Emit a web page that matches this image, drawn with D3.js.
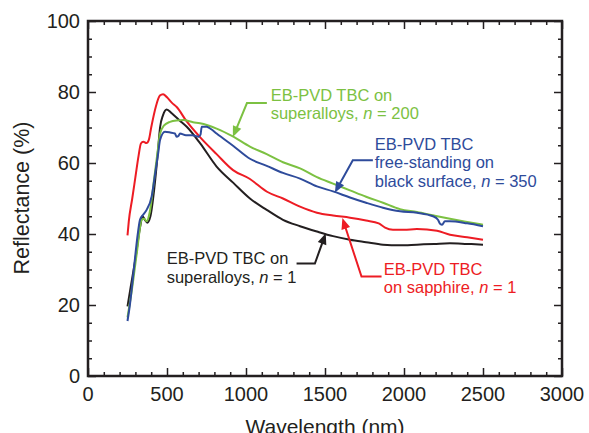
<!DOCTYPE html>
<html>
<head>
<meta charset="utf-8">
<script src="https://cdn.jsdelivr.net/npm/d3@7"></script>
<style>
  body { margin: 0; background: #fff; }
  svg { display: block; font-family: "Liberation Sans", Arial, Helvetica, sans-serif; }
</style>
</head>
<body>
<svg id="chart" width="589" height="433"></svg>
<script>
// plot box in px
const margin = { top: 21, right: 27, bottom: 57, left: 88 };
const W = 589, H = 433;
const width = W - margin.left - margin.right;
const height = H - margin.top - margin.bottom;

// data: wavelength (nm) / reflectance (%)
var blackWl = [250, 270, 300, 330, 345, 360, 375, 395, 420, 440, 456, 475, 498, 530, 580, 625, 709, 814, 920, 1025, 1131, 1234, 1342, 1449, 1551, 1658, 1760, 1867, 1975, 2082, 2190, 2291, 2400, 2500]
var blackR = [19.6, 25, 33, 42, 45, 44, 43.2, 45, 53, 62, 70, 73.5, 75.1, 74, 72, 70.2, 65.6, 59.0, 54.4, 50.0, 46.8, 44.0, 42.2, 40.7, 39.4, 38.4, 37.7, 37.0, 36.8, 37.0, 37.2, 37.4, 37.2, 37.0]

var redWl = [250, 258, 280, 300, 320, 335, 350, 370, 385, 400, 430, 455, 475, 500, 530, 563, 620, 709, 814, 918, 1025, 1133, 1234, 1342, 1449, 1551, 1658, 1760, 1840, 1880, 1930, 2000, 2082, 2209, 2291, 2400, 2500]
var redR = [39.6, 43.5, 50, 56, 62, 65.5, 66, 65.6, 66.5, 70, 76, 79, 79.4, 78.5, 77, 75.7, 72, 67.3, 62.5, 58.0, 55.5, 51.9, 50.0, 47.7, 46.0, 45.2, 44.6, 43.8, 43, 41.8, 41.2, 41.2, 41.4, 40.9, 39.8, 39.1, 38.4]

var greenWl = [250, 280, 310, 340, 355, 371, 390, 420, 440, 456, 480, 519, 560, 603, 665, 709, 814, 920, 1025, 1131, 1234, 1342, 1449, 1551, 1658, 1760, 1867, 1975, 2082, 2190, 2291, 2400, 2500]
var greenR = [16.5, 25, 35, 44, 44.3, 43.6, 46, 56, 63, 68.3, 70.5, 71.6, 72, 72.1, 71.5, 71.2, 69.7, 67.4, 64.6, 62.5, 60.2, 58.5, 56, 54.2, 52.3, 50.5, 48.8, 47, 46.2, 45.2, 44.3, 43.4, 42.6]

var blueWl = [250, 265, 290, 315, 329, 350, 371, 403, 425, 445, 456, 487, 520, 550, 561, 572, 582, 620, 660, 700, 712, 720, 751, 780, 814, 920, 1025, 1131, 1234, 1342, 1449, 1551, 1658, 1760, 1867, 1975, 2082, 2184, 2215, 2230, 2241, 2259, 2291, 2400, 2500]
var blueR = [15.5, 20, 30, 40, 44, 45.5, 46.8, 50.6, 57, 63, 66.5, 68.8, 68.6, 68.3, 67.4, 67.6, 68.3, 67.8, 67.8, 67.4, 68, 70.2, 70.2, 69.5, 68.3, 64.8, 61.2, 59.2, 57.2, 55.6, 53.4, 52.0, 50.3, 48.8, 47.4, 46.4, 46.0, 45.0, 44.0, 42.8, 42.6, 43.6, 43.6, 43.0, 42.2]

var xTicks = [0, 500, 1000, 1500, 2000, 2500, 3000]
var yTicks = [0, 20, 40, 60, 80, 100]

var colors = { black: '#231f20', red: '#ed1c24', green: '#7cc142', blue: '#2e4b9b' }

var series = [
    { wl: blackWl, r: blackR, color: colors.black },
    { wl: redWl, r: redR, color: colors.red },
    { wl: greenWl, r: greenR, color: colors.green },
    { wl: blueWl, r: blueR, color: colors.blue }
]

// labels: text anchor + arrow path in data units
var notes = [
    { color: colors.green, at: [1156, 77.6], lines: [['EB-PVD TBC on'], ['superalloys, ', 'n', ' = 200']],
      arrow: [[1132, 76.9], [1006, 76.9], [917, 67.3]] },
    { color: colors.blue, at: [1815, 63.7], lines: [['EB-PVD TBC'], ['free-standing on'], ['black surface, ', 'n', ' = 350']],
      arrow: [[1803, 60.8], [1676, 60.8], [1562, 51.6]] },
    { color: colors.red, at: [1872, 28.5], lines: [['EB-PVD TBC'], ['on sapphire, ', 'n', ' = 1']],
      arrow: [[1858, 28.0], [1731, 28.0], [1610, 44.5]] },
    { color: colors.black, at: [498, 31.5], lines: [['EB-PVD TBC on'], ['superalloys, ', 'n', ' = 1']],
      arrow: [[1320, 31.7], [1436, 31.7], [1505, 40.2]] }
]

var svg = d3.select('#chart')
var g = svg.append('g').attr('transform', 'translate(' + margin.left + ',' + margin.top + ')')

var xScale = d3.scaleLinear().domain([0, 3000]).range([0, width])
var yScale = d3.scaleLinear().domain([0, 100]).range([height, 0])

// ticks inward on all four sides
function tickAxes() {
    const minorX = d3.range(0, 3001, 100)
    const minorY = d3.range(0, 101, 5)
    const fx = v => v % 500 == 0 ? 8 : 4
    const fy = v => v % 20 == 0 ? 8 : 4

    g.append('g').attr('transform', 'translate(0,' + height + ')')
        .call(d3.axisBottom(xScale).tickValues(minorX).tickFormat('').tickSizeInner(0).tickSizeOuter(0))
        .call(a => a.selectAll('.tick line').attr('y2', d => -fx(d)))
    g.append('g')
        .call(d3.axisTop(xScale).tickValues(minorX).tickFormat('').tickSizeInner(0).tickSizeOuter(0))
        .call(a => a.selectAll('.tick line').attr('y2', d => fx(d)))
    g.append('g')
        .call(d3.axisLeft(yScale).tickValues(minorY).tickFormat('').tickSizeInner(0).tickSizeOuter(0))
        .call(a => a.selectAll('.tick line').attr('x2', d => fy(d)))
    g.append('g').attr('transform', 'translate(' + width + ',0)')
        .call(d3.axisRight(yScale).tickValues(minorY).tickFormat('').tickSizeInner(0).tickSizeOuter(0))
        .call(a => a.selectAll('.tick line').attr('x2', d => -fy(d)))

    g.selectAll('.domain').remove()
    g.selectAll('.tick line').attr('stroke', '#231f20').attr('stroke-width', 1.5)

    // labels
    g.selectAll('.xlab').data(xTicks).join('text')
        .attr('x', d => xScale(d)).attr('y', height + 25)
        .attr('text-anchor', 'middle').attr('font-size', 20).attr('fill', '#231f20')
        .text(d => d)
    g.selectAll('.ylab').data(yTicks).join('text')
        .attr('x', -8).attr('y', d => yScale(d) + 7)
        .attr('text-anchor', 'end').attr('font-size', 20).attr('fill', '#231f20')
        .text(d => d)

    g.append('rect').attr('width', width).attr('height', height)
        .attr('fill', 'none').attr('stroke', '#231f20').attr('stroke-width', 2.5)
}

tickAxes()

var line = d3.line().x(d => xScale(d[0])).y(d => yScale(d[1])).curve(d3.curveMonotoneX)

series.forEach(s => {
    g.append('path')
        .datum(s.wl.map((w, i) => [w, s.r[i]]))
        .attr('d', line)
        .attr('fill', 'none')
        .attr('stroke', s.color)
        .attr('stroke-width', 2)
        .attr('stroke-linejoin', 'round')
})

// annotations with arrows
notes.forEach(n => {
    const t = g.append('text')
        .attr('x', xScale(n.at[0])).attr('y', yScale(n.at[1]))
        .attr('font-size', 16.5).attr('fill', n.color)
    n.lines.forEach((parts, i) => {
        parts.forEach((p, j) => {
            const ts = t.append('tspan').text(p)
            if (j == 0) ts.attr('x', xScale(n.at[0])).attr('dy', i == 0 ? 0 : 18.5)
            if (p == 'n') ts.attr('font-style', 'italic')
        })
    })
    const pts = n.arrow.map(p => [xScale(p[0]), yScale(p[1])])
    g.append('path').attr('d', d3.line()(pts.slice(0, -1).concat([shorten(pts[pts.length - 2], pts[pts.length - 1], 6)])))
        .attr('fill', 'none').attr('stroke', n.color).attr('stroke-width', 2)
    const a = pts[pts.length - 2], b = pts[pts.length - 1]
    const ang = Math.atan2(b[1] - a[1], b[0] - a[0])
    const L = 11, Wd = 4.5
    const p1 = [b[0] - L * Math.cos(ang) + Wd * Math.sin(ang), b[1] - L * Math.sin(ang) - Wd * Math.cos(ang)]
    const p2 = [b[0] - L * Math.cos(ang) - Wd * Math.sin(ang), b[1] - L * Math.sin(ang) + Wd * Math.cos(ang)]
    g.append('path').attr('d', 'M' + b + 'L' + p1 + 'L' + p2 + 'Z').attr('fill', n.color)
})

function shorten(a, b, d) {
    const len = Math.hypot(b[0] - a[0], b[1] - a[1])
    return [b[0] - (b[0] - a[0]) * d / len, b[1] - (b[1] - a[1]) * d / len]
}

// axis titles
svg.append('text')
    .attr('x', margin.left + xScale(1500)).attr('y', 434)
    .attr('text-anchor', 'middle').attr('font-size', 21).attr('fill', '#231f20')
    .text('Wavelength (nm)')
svg.append('text')
    .attr('transform', 'translate(29,' + 198 + ') rotate(-90)')
    .attr('text-anchor', 'middle').attr('font-size', 21.5).attr('fill', '#231f20')
    .text('Reflectance (%)')
</script>
</body>
</html>
